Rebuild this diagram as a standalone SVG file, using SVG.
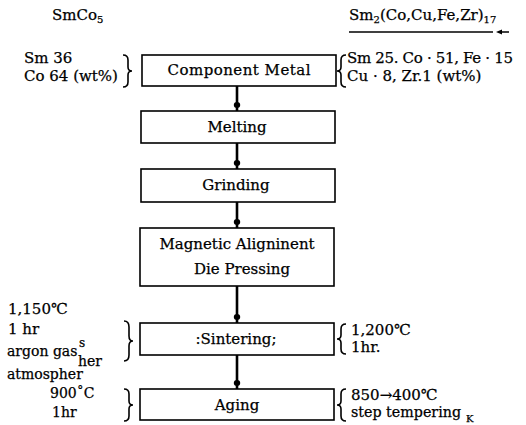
<svg xmlns="http://www.w3.org/2000/svg" width="526" height="425" viewBox="0 0 526 425">
<style>
text{font-family:"DejaVu Serif","Liberation Serif","Noto Sans CJK JP",serif;font-size:15px;fill:#000;stroke:#000;stroke-width:0.25}
.bt{text-anchor:middle}
.sm{font-size:14px}
.box{fill:#fff;stroke:#000;stroke-width:1.6}
.br{fill:none;stroke:#000;stroke-width:1.6}
.con{stroke:#000;stroke-width:2.6;fill:none}
.sub{font-size:10px}
</style>
<defs>
<marker id="dot" markerWidth="8" markerHeight="8" refX="4" refY="4" markerUnits="userSpaceOnUse" orient="auto">
<ellipse cx="4" cy="4" rx="3" ry="3.2" fill="#000"/>
</marker>
</defs>
<rect width="526" height="425" fill="#fff"/>

<g id="headers">
<text x="52" y="20">SmCo<tspan class="sub" dy="3">5</tspan></text>
<text x="349" y="20">Sm<tspan class="sub" dy="3">2</tspan><tspan dy="-3">(Co,Cu,Fe,Zr)</tspan><tspan class="sub" dy="3">17</tspan></text>
<line x1="349" y1="32" x2="493" y2="32" stroke="#000" stroke-width="1.5"/>
<line x1="500" y1="32" x2="509" y2="32" stroke="#000" stroke-width="1.5"/>
<path d="M496,32 L502,29.5 L502,34.5 Z" fill="#000"/>
</g>

<g id="connectors">
<line class="con" x1="237" y1="86" x2="237" y2="105" marker-end="url(#dot)"/>
<line class="con" x1="237" y1="105" x2="237" y2="111"/>
<line class="con" x1="237" y1="143" x2="237" y2="163" marker-end="url(#dot)"/>
<line class="con" x1="237" y1="163" x2="237" y2="169"/>
<line class="con" x1="237" y1="202" x2="237" y2="222" marker-end="url(#dot)"/>
<line class="con" x1="237" y1="222" x2="237" y2="228"/>
<line class="con" x1="237" y1="286" x2="237" y2="317" marker-end="url(#dot)"/>
<line class="con" x1="237" y1="317" x2="237" y2="323"/>
<line class="con" x1="237" y1="355" x2="237" y2="383" marker-end="url(#dot)"/>
<line class="con" x1="237" y1="383" x2="237" y2="389"/>
</g>

<g id="component-metal">
<text x="24" y="63">Sm 36</text>
<text x="24" y="81">Co 64 (wt%)</text>
<path class="br" d="M123,55 Q128,55 128,60 L128,67 Q128,71 132,71 Q128,71 128,75 L128,82 Q128,87 123,87"/>
<rect class="box" x="142" y="55" width="194" height="31"/>
<text class="bt" x="239" y="75" textLength="143" lengthAdjust="spacing">Component Metal</text>
<path class="br" d="M346,55 Q341,55 341,60 L341,67 Q341,71 337,71 Q341,71 341,75 L341,82 Q341,87 346,87"/>
<text x="347" y="63" textLength="166" lengthAdjust="spacing">Sm 25. Co · 51, Fe · 15</text>
<text x="347" y="81">Cu · 8, Zr.1 (wt%)</text>
</g>

<g id="melting">
<rect class="box" x="141" y="111" width="194" height="32"/>
<text class="bt" x="237" y="132">Melting</text>
</g>

<g id="grinding">
<rect class="box" x="141" y="169" width="194" height="33"/>
<text class="bt" x="236" y="190">Grinding</text>
</g>

<g id="magnetic-alignment">
<rect class="box" x="140" y="228" width="194" height="58"/>
<text class="bt" x="237" y="249">Magnetic Aligninent</text>
<text class="bt" x="242" y="274">Die Pressing</text>
</g>

<g id="sintering">
<text x="8" y="314">1,150℃</text>
<text x="8" y="334">1 hr</text>
<text class="sm" x="7" y="356">argon gas</text>
<text x="79" y="347" style="font-size:12px">s</text>
<text class="sm" x="78" y="366">her</text>
<text class="sm" x="7" y="379">atmospher</text>
<path class="br" d="M124,321 Q129,321 129,327 L129,336 Q129,341 133,341 Q129,341 129,346 L129,355 Q129,361 124,361"/>
<rect class="box" x="140" y="323" width="194" height="32"/>
<text class="bt" x="236" y="344">:Sintering;</text>
<path class="br" d="M346,324 Q341,324 341,329 L341,335 Q341,339 337,339 Q341,339 341,343 L341,349 Q341,354 346,354"/>
<text x="351" y="335">1,200℃</text>
<text x="351" y="352">1hr.</text>
</g>

<g id="aging">
<text class="sm" x="50" y="398">900˚C</text>
<text class="sm" x="52" y="417">1hr</text>
<path class="br" d="M124,389 Q129,389 129,394 L129,401 Q129,405 133,405 Q129,405 129,409 L129,416 Q129,421 124,421"/>
<rect class="box" x="140" y="389" width="194" height="31"/>
<text class="bt" x="237" y="410">Aging</text>
<path class="br" d="M346,389 Q341,389 341,394 L341,401 Q341,405 337,405 Q341,405 341,409 L341,416 Q341,421 346,421"/>
<text x="351" y="400">850→400℃</text>
<text x="351" y="417" textLength="110" lengthAdjust="spacingAndGlyphs">step tempering</text>
<text x="466" y="422" style="font-size:10px">K</text>
</g>
</svg>
